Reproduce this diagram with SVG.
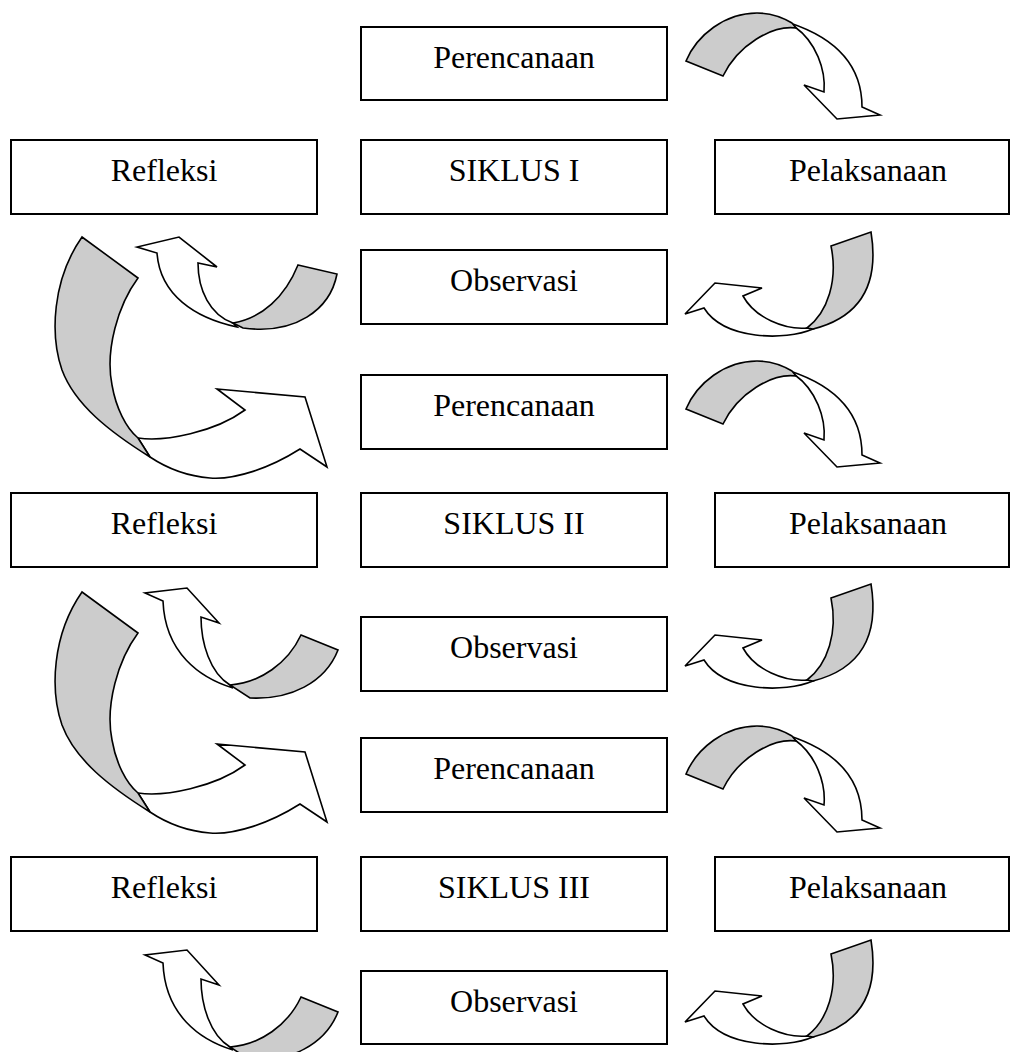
<svg xmlns="http://www.w3.org/2000/svg" xmlns:xlink="http://www.w3.org/1999/xlink" width="1012" height="1052" viewBox="0 0 1012 1052">
<style>
.box{fill:#ffffff;stroke:#000000;stroke-width:2}
.lbl{font-family:"Liberation Serif","Times New Roman",serif;font-size:32px;fill:#000000;text-anchor:middle}
.wh{fill:#ffffff;stroke:#000000;stroke-width:1.6;stroke-linejoin:miter}
.gr{fill:#cccccc;stroke:#000000;stroke-width:1.6;stroke-linejoin:miter}
</style>
<defs>
<g id="arrA">
<path class="wh" d="M790,23 C835,38 862,65 862,107 L880,115 L837,119 L804,85 L824,92 C826,70 816,42 795,27 Z"/>
<path class="gr" d="M686,61 C697,35 725,13 757,13 C770,13 782,17 792,23 L796,28 C772,25 738,45 723,76 Z"/>
</g>
<g id="arrB">
<path class="wh" d="M813,329 C785,341 724,340 704,308 L685,314 L715,283 L762,288 L743,296 C755,318 785,330 807,328 Z"/>
<path class="gr" d="M831,246 L871,232 C878,275 868,315 813,329 L807,328 C828,312 838,280 831,246 Z"/>
</g>
<g id="arrD">
<path class="wh" d="M138,438 C165,442 215,432 245,410 L217,389 L305,397 L327,467 L300,449 C270,468 235,480 210,478 C185,476 165,467 150,457 Z"/>
<path class="gr" d="M82,237 L138,278 C118,305 105,350 112,385 C116,408 126,428 138,438 L150,457 C110,432 75,405 62,370 C50,335 52,280 82,237 Z"/>
</g>
<g id="arrC3">
<path class="wh" d="M233,1050 C200,1040 165,1015 163,963 L145,955 L187,950 L219,985 L201,979 C201,1005 210,1035 230,1047 Z"/>
<path class="gr" d="M301,997 L338,1012 C325,1045 290,1062 250,1060 L230,1047 C260,1045 288,1025 301,997 Z"/>
</g>
</defs>
<g id="connectors">
<use xlink:href="#arrA"/>
<use xlink:href="#arrA" transform="translate(0,348)"/>
<use xlink:href="#arrA" transform="translate(0,713)"/>
<use xlink:href="#arrB"/>
<use xlink:href="#arrB" transform="translate(0,352)"/>
<use xlink:href="#arrB" transform="translate(0,708)"/>
<g id="arrC1">
<path class="wh" d="M237,327 C195,318 160,295 157,253 L137,247 L179,237 L217,267 L198,263 C198,290 210,315 233,323 Z"/>
<path class="gr" d="M298,265 L337,274 C330,310 295,335 243,328 L233,323 C262,318 285,297 298,265 Z"/>
</g>
<use xlink:href="#arrC3" transform="translate(0,-362)"/>
<use xlink:href="#arrC3"/>
<use xlink:href="#arrD"/>
<use xlink:href="#arrD" transform="translate(0,355)"/>
</g>
<g id="perencanaan1"><rect class="box" x="361" y="27" width="306" height="73"/><text class="lbl" x="514" y="68">Perencanaan</text></g>
<g id="refleksi1"><rect class="box" x="11" y="140" width="306" height="74"/><text class="lbl" x="164" y="181">Refleksi</text></g>
<g id="siklus1"><rect class="box" x="361" y="140" width="306" height="74"/><text class="lbl" x="514" y="181">SIKLUS I</text></g>
<g id="pelaksanaan1"><rect class="box" x="715" y="140" width="294" height="74"/><text class="lbl" x="868" y="181">Pelaksanaan</text></g>
<g id="observasi1"><rect class="box" x="361" y="250" width="306" height="74"/><text class="lbl" x="514" y="291">Observasi</text></g>
<g id="perencanaan2"><rect class="box" x="361" y="375" width="306" height="74"/><text class="lbl" x="514" y="416">Perencanaan</text></g>
<g id="refleksi2"><rect class="box" x="11" y="493" width="306" height="74"/><text class="lbl" x="164" y="534">Refleksi</text></g>
<g id="siklus2"><rect class="box" x="361" y="493" width="306" height="74"/><text class="lbl" x="514" y="534">SIKLUS II</text></g>
<g id="pelaksanaan2"><rect class="box" x="715" y="493" width="294" height="74"/><text class="lbl" x="868" y="534">Pelaksanaan</text></g>
<g id="observasi2"><rect class="box" x="361" y="617" width="306" height="74"/><text class="lbl" x="514" y="658">Observasi</text></g>
<g id="perencanaan3"><rect class="box" x="361" y="738" width="306" height="74"/><text class="lbl" x="514" y="779">Perencanaan</text></g>
<g id="refleksi3"><rect class="box" x="11" y="857" width="306" height="74"/><text class="lbl" x="164" y="898">Refleksi</text></g>
<g id="siklus3"><rect class="box" x="361" y="857" width="306" height="74"/><text class="lbl" x="514" y="898">SIKLUS III</text></g>
<g id="pelaksanaan3"><rect class="box" x="715" y="857" width="294" height="74"/><text class="lbl" x="868" y="898">Pelaksanaan</text></g>
<g id="observasi3"><rect class="box" x="361" y="971" width="306" height="73"/><text class="lbl" x="514" y="1012">Observasi</text></g>
</svg>
